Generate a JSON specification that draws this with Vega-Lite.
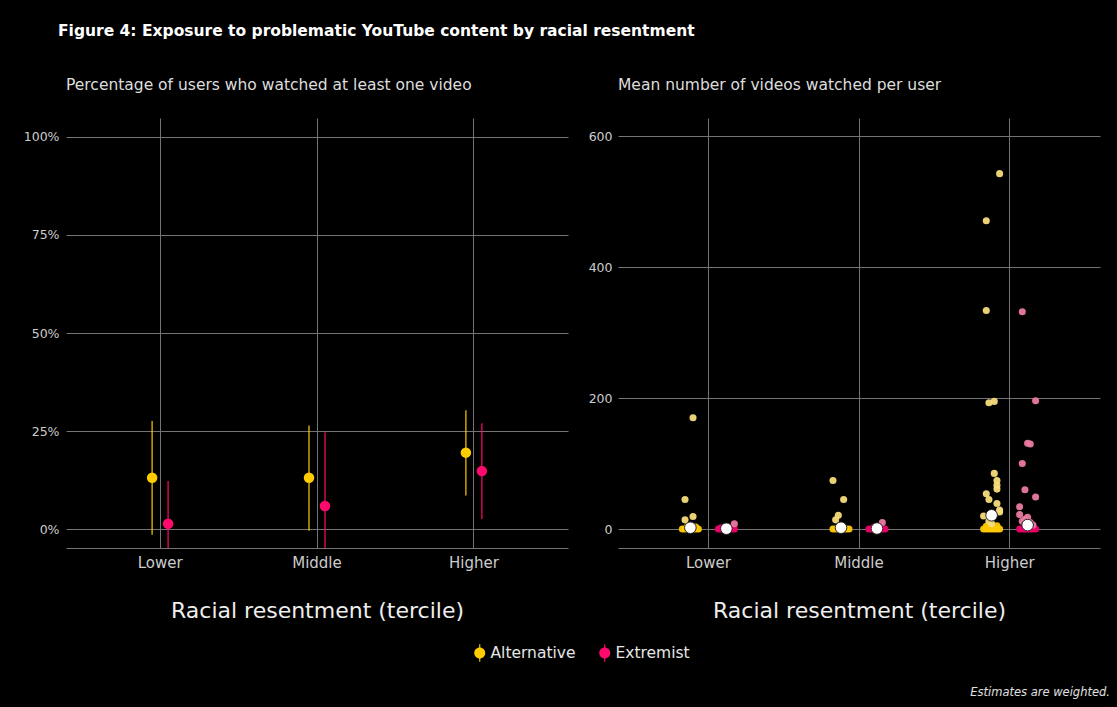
{
  "$schema": "https://vega.github.io/schema/vega-lite/v6.json",
  "background": "#000000",
  "padding": {"left": 23, "top": 24, "right": 16, "bottom": 8},
  "config": {
    "font": "DejaVu Sans",
    "view": {"stroke": null},
    "axis": {
      "labelColor": "#CCCCCC", "labelFontSize": 12.5, "labelFont": "DejaVu Sans",
      "gridColor": "#747474", "gridWidth": 1, "domain": false, "ticks": false,
      "titleColor": "#EEEEEE", "titleFontSize": 22, "titleFontWeight": "normal", "titleFont": "DejaVu Sans"
    },
    "title": {"font": "DejaVu Sans"}
  },
  "title": {
    "text": "Figure 4: Exposure to problematic YouTube content by racial resentment",
    "anchor": "start", "frame": "group", "fontSize": 15.5, "fontWeight": "bold",
    "color": "#FFFFFF", "dx": -8, "offset": 38
  },
  "datasets": {
    "pct": [
      {"tercile": "Lower", "type": "Alternative", "est": 0.131, "lo": -0.014, "hi": 0.276},
      {"tercile": "Lower", "type": "Extremist", "est": 0.014, "lo": -0.095, "hi": 0.123},
      {"tercile": "Middle", "type": "Alternative", "est": 0.131, "lo": -0.004, "hi": 0.264},
      {"tercile": "Middle", "type": "Extremist", "est": 0.059, "lo": -0.129, "hi": 0.247},
      {"tercile": "Higher", "type": "Alternative", "est": 0.195, "lo": 0.086, "hi": 0.303},
      {"tercile": "Higher", "type": "Extremist", "est": 0.148, "lo": 0.026, "hi": 0.27}
    ],
    "means": [
      {"tercile": "Lower", "type": "Alternative", "mean": 2},
      {"tercile": "Lower", "type": "Extremist", "mean": 0.5},
      {"tercile": "Middle", "type": "Alternative", "mean": 2},
      {"tercile": "Middle", "type": "Extremist", "mean": 0.8},
      {"tercile": "Higher", "type": "Alternative", "mean": 21},
      {"tercile": "Higher", "type": "Extremist", "mean": 6}
    ],
    "jitter": [
      {"tercile": "Lower", "type": "Alternative", "slot": 1, "videos": 0},
      {"tercile": "Lower", "type": "Alternative", "slot": 2, "videos": 0},
      {"tercile": "Lower", "type": "Alternative", "slot": 3, "videos": 0},
      {"tercile": "Lower", "type": "Alternative", "slot": 4, "videos": 0},
      {"tercile": "Lower", "type": "Alternative", "slot": 5, "videos": 0},
      {"tercile": "Lower", "type": "Alternative", "slot": 6, "videos": 0},
      {"tercile": "Lower", "type": "Alternative", "slot": 7, "videos": 0},
      {"tercile": "Lower", "type": "Alternative", "slot": 3, "videos": 4},
      {"tercile": "Lower", "type": "Alternative", "slot": 6, "videos": 3},
      {"tercile": "Lower", "type": "Alternative", "slot": 2, "videos": 14},
      {"tercile": "Lower", "type": "Alternative", "slot": 5, "videos": 19},
      {"tercile": "Lower", "type": "Alternative", "slot": 2, "videos": 45},
      {"tercile": "Lower", "type": "Alternative", "slot": 5, "videos": 170},
      {"tercile": "Lower", "type": "Extremist", "slot": 1, "videos": 0},
      {"tercile": "Lower", "type": "Extremist", "slot": 2, "videos": 0},
      {"tercile": "Lower", "type": "Extremist", "slot": 3, "videos": 0},
      {"tercile": "Lower", "type": "Extremist", "slot": 4, "videos": 0},
      {"tercile": "Lower", "type": "Extremist", "slot": 5, "videos": 0},
      {"tercile": "Lower", "type": "Extremist", "slot": 6, "videos": 0},
      {"tercile": "Lower", "type": "Extremist", "slot": 7, "videos": 0},
      {"tercile": "Lower", "type": "Extremist", "slot": 2, "videos": 2},
      {"tercile": "Lower", "type": "Extremist", "slot": 7, "videos": 8},
      {"tercile": "Middle", "type": "Alternative", "slot": 1, "videos": 0},
      {"tercile": "Middle", "type": "Alternative", "slot": 2, "videos": 0},
      {"tercile": "Middle", "type": "Alternative", "slot": 3, "videos": 0},
      {"tercile": "Middle", "type": "Alternative", "slot": 4, "videos": 0},
      {"tercile": "Middle", "type": "Alternative", "slot": 5, "videos": 0},
      {"tercile": "Middle", "type": "Alternative", "slot": 6, "videos": 0},
      {"tercile": "Middle", "type": "Alternative", "slot": 7, "videos": 0},
      {"tercile": "Middle", "type": "Alternative", "slot": 4, "videos": 5},
      {"tercile": "Middle", "type": "Alternative", "slot": 2, "videos": 14},
      {"tercile": "Middle", "type": "Alternative", "slot": 3, "videos": 21},
      {"tercile": "Middle", "type": "Alternative", "slot": 5, "videos": 45},
      {"tercile": "Middle", "type": "Alternative", "slot": 1, "videos": 74},
      {"tercile": "Middle", "type": "Extremist", "slot": 1, "videos": 0},
      {"tercile": "Middle", "type": "Extremist", "slot": 2, "videos": 0},
      {"tercile": "Middle", "type": "Extremist", "slot": 3, "videos": 0},
      {"tercile": "Middle", "type": "Extremist", "slot": 4, "videos": 0},
      {"tercile": "Middle", "type": "Extremist", "slot": 5, "videos": 0},
      {"tercile": "Middle", "type": "Extremist", "slot": 6, "videos": 0},
      {"tercile": "Middle", "type": "Extremist", "slot": 7, "videos": 0},
      {"tercile": "Middle", "type": "Extremist", "slot": 3, "videos": 3},
      {"tercile": "Middle", "type": "Extremist", "slot": 6, "videos": 10},
      {"tercile": "Higher", "type": "Alternative", "slot": 1, "videos": 0},
      {"tercile": "Higher", "type": "Alternative", "slot": 2, "videos": 0},
      {"tercile": "Higher", "type": "Alternative", "slot": 3, "videos": 0},
      {"tercile": "Higher", "type": "Alternative", "slot": 4, "videos": 0},
      {"tercile": "Higher", "type": "Alternative", "slot": 5, "videos": 0},
      {"tercile": "Higher", "type": "Alternative", "slot": 6, "videos": 0},
      {"tercile": "Higher", "type": "Alternative", "slot": 7, "videos": 0},
      {"tercile": "Higher", "type": "Alternative", "slot": 2, "videos": 4},
      {"tercile": "Higher", "type": "Alternative", "slot": 4, "videos": 3},
      {"tercile": "Higher", "type": "Alternative", "slot": 6, "videos": 5},
      {"tercile": "Higher", "type": "Alternative", "slot": 4, "videos": 8},
      {"tercile": "Higher", "type": "Alternative", "slot": 3, "videos": 12},
      {"tercile": "Higher", "type": "Alternative", "slot": 1, "videos": 20},
      {"tercile": "Higher", "type": "Alternative", "slot": 7, "videos": 26},
      {"tercile": "Higher", "type": "Alternative", "slot": 7, "videos": 29},
      {"tercile": "Higher", "type": "Alternative", "slot": 6, "videos": 39},
      {"tercile": "Higher", "type": "Alternative", "slot": 3, "videos": 45},
      {"tercile": "Higher", "type": "Alternative", "slot": 2, "videos": 54},
      {"tercile": "Higher", "type": "Alternative", "slot": 6, "videos": 61},
      {"tercile": "Higher", "type": "Alternative", "slot": 6, "videos": 67},
      {"tercile": "Higher", "type": "Alternative", "slot": 6, "videos": 74},
      {"tercile": "Higher", "type": "Alternative", "slot": 5, "videos": 85},
      {"tercile": "Higher", "type": "Alternative", "slot": 3, "videos": 193},
      {"tercile": "Higher", "type": "Alternative", "slot": 5, "videos": 195},
      {"tercile": "Higher", "type": "Alternative", "slot": 2, "videos": 334},
      {"tercile": "Higher", "type": "Alternative", "slot": 2, "videos": 471},
      {"tercile": "Higher", "type": "Alternative", "slot": 7, "videos": 543},
      {"tercile": "Higher", "type": "Extremist", "slot": 1, "videos": 0},
      {"tercile": "Higher", "type": "Extremist", "slot": 2, "videos": 0},
      {"tercile": "Higher", "type": "Extremist", "slot": 3, "videos": 0},
      {"tercile": "Higher", "type": "Extremist", "slot": 4, "videos": 0},
      {"tercile": "Higher", "type": "Extremist", "slot": 5, "videos": 0},
      {"tercile": "Higher", "type": "Extremist", "slot": 6, "videos": 0},
      {"tercile": "Higher", "type": "Extremist", "slot": 7, "videos": 0},
      {"tercile": "Higher", "type": "Extremist", "slot": 6, "videos": 3},
      {"tercile": "Higher", "type": "Extremist", "slot": 3, "videos": 4},
      {"tercile": "Higher", "type": "Extremist", "slot": 6, "videos": 6},
      {"tercile": "Higher", "type": "Extremist", "slot": 5, "videos": 10},
      {"tercile": "Higher", "type": "Extremist", "slot": 2, "videos": 12},
      {"tercile": "Higher", "type": "Extremist", "slot": 3, "videos": 15},
      {"tercile": "Higher", "type": "Extremist", "slot": 4, "videos": 18},
      {"tercile": "Higher", "type": "Extremist", "slot": 1, "videos": 22},
      {"tercile": "Higher", "type": "Extremist", "slot": 1, "videos": 34},
      {"tercile": "Higher", "type": "Extremist", "slot": 7, "videos": 49},
      {"tercile": "Higher", "type": "Extremist", "slot": 3, "videos": 60},
      {"tercile": "Higher", "type": "Extremist", "slot": 2, "videos": 100},
      {"tercile": "Higher", "type": "Extremist", "slot": 5, "videos": 130},
      {"tercile": "Higher", "type": "Extremist", "slot": 4, "videos": 131},
      {"tercile": "Higher", "type": "Extremist", "slot": 7, "videos": 196},
      {"tercile": "Higher", "type": "Extremist", "slot": 2, "videos": 332}
    ]
  },
  "vconcat": [
    {
      "title": {
        "text": "Estimates are weighted.", "orient": "bottom", "anchor": "end", "frame": "bounds",
        "fontSize": 11.5, "fontStyle": "italic", "fontWeight": "normal", "color": "#E0E0E0",
        "dx": 10, "offset": 66
      },
      "spacing": 50,
      "bounds": "flush",
      "hconcat": [
        {
          "width": 502,
          "height": 430,
          "title": {
            "text": "Percentage of users who watched at least one video",
            "anchor": "start", "frame": "group", "fontSize": 15.5, "fontWeight": "normal",
            "color": "#DDDDDD", "offset": 25
          },
          "data": {"name": "pct"},
          "encoding": {
            "x": {
              "field": "tercile", "type": "nominal", "sort": ["Lower", "Middle", "Higher"],
              "scale": {"type": "band", "paddingInner": 0, "paddingOuter": 0.1},
              "axis": {
                "title": "Racial resentment (tercile)", "labelAngle": 0, "grid": true,
                "bandPosition": 0.5, "domain": true, "domainColor": "#747474",
                "labelPadding": 7, "titlePadding": 30, "labelFontSize": 15
              }
            },
            "xOffset": {
              "field": "type", "type": "nominal",
              "scale": {"type": "point", "domain": ["Alternative", "Extremist"], "range": [70.44, 86.44], "padding": 0}
            },
            "color": {
              "field": "type", "type": "nominal",
              "scale": {"domain": ["Alternative", "Extremist"], "range": ["#FFCC00", "#FF0A6C"]},
              "legend": {
                "orient": "none", "legendX": 406, "legendY": 527, "direction": "horizontal",
                "title": null, "labelColor": "#E6E6E6", "labelFontSize": 15.5, "labelFont": "DejaVu Sans",
                "symbolType": "M-1,0A1,1 0 1,1 1,0A1,1 0 1,1 -1,0ZM-0.1,-1.6L0.1,-1.6L0.1,1.6L-0.1,1.6Z",
                "symbolSize": 121, "symbolStrokeWidth": 0, "symbolOpacity": 1,
                "labelOffset": 3, "columnPadding": 21
              }
            }
          },
          "layer": [
            {
              "mark": {"type": "rule", "strokeWidth": 1.5, "opacity": 0.8, "clip": true},
              "encoding": {
                "y": {
                  "field": "lo", "type": "quantitative",
                  "scale": {"domain": [-0.048, 1.048], "nice": false, "zero": false},
                  "axis": {"title": null, "values": [0, 0.25, 0.5, 0.75, 1], "format": ".0%", "grid": true, "labelPadding": 7}
                },
                "y2": {"field": "hi"}
              }
            },
            {
              "mark": {"type": "point", "filled": true, "size": 110, "opacity": 1},
              "encoding": {
                "y": {
                  "field": "est", "type": "quantitative",
                  "scale": {"domain": [-0.048, 1.048], "nice": false, "zero": false}
                }
              }
            }
          ]
        },
        {
          "width": 482,
          "height": 430,
          "title": {
            "text": "Mean number of videos watched per user",
            "anchor": "start", "frame": "group", "fontSize": 15.5, "fontWeight": "normal",
            "color": "#DDDDDD", "offset": 25
          },
          "encoding": {
            "x": {
              "field": "tercile", "type": "nominal", "sort": ["Lower", "Middle", "Higher"],
              "scale": {"type": "band", "paddingInner": 0, "paddingOuter": 0.1},
              "axis": {
                "title": "Racial resentment (tercile)", "labelAngle": 0, "grid": true,
                "bandPosition": 0.5, "domain": true, "domainColor": "#747474",
                "labelPadding": 7, "titlePadding": 30, "labelFontSize": 15
              }
            },
            "y": {
              "field": "videos", "type": "quantitative",
              "scale": {"domain": [-29, 628], "nice": false, "zero": false},
              "axis": {"title": null, "values": [0, 200, 400, 600], "grid": true, "labelPadding": 6}
            }
          },
          "resolve": {"scale": {"xOffset": "independent"}},
          "layer": [
            {
              "data": {"name": "jitter"},
              "transform": [{"filter": "datum.type === 'Alternative'"}],
              "mark": {"type": "point", "filled": true, "size": 50, "opacity": 0.95},
              "encoding": {
                "xOffset": {
                  "field": "slot", "type": "ordinal",
                  "scale": {"type": "point", "domain": [1, 2, 3, 4, 5, 6, 7], "range": [49.3, 65.3], "padding": 0}
                },
                "fill": {"condition": {"test": "datum.videos < 6", "value": "#FFC800"}, "value": "#F7DC7A"}
              }
            },
            {
              "data": {"name": "jitter"},
              "transform": [{"filter": "datum.type === 'Extremist'"}],
              "mark": {"type": "point", "filled": true, "size": 50, "opacity": 0.95},
              "encoding": {
                "xOffset": {
                  "field": "slot", "type": "ordinal",
                  "scale": {"type": "point", "domain": [1, 2, 3, 4, 5, 6, 7], "range": [85.3, 101.3], "padding": 0}
                },
                "fill": {"condition": {"test": "datum.videos < 6", "value": "#F0006A"}, "value": "#EA7AA1"}
              }
            },
            {
              "data": {"name": "means"},
              "mark": {"type": "point", "filled": true, "size": 135, "fill": "#FFFFFF", "stroke": "#222222", "strokeWidth": 1, "opacity": 1},
              "encoding": {
                "y": {"field": "mean", "type": "quantitative"},
                "xOffset": {
                  "field": "type", "type": "nominal",
                  "scale": {"type": "point", "domain": ["Alternative", "Extremist"], "range": [57.3, 93.3], "padding": 0}
                }
              }
            }
          ]
        }
      ]
    }
  ]
}
